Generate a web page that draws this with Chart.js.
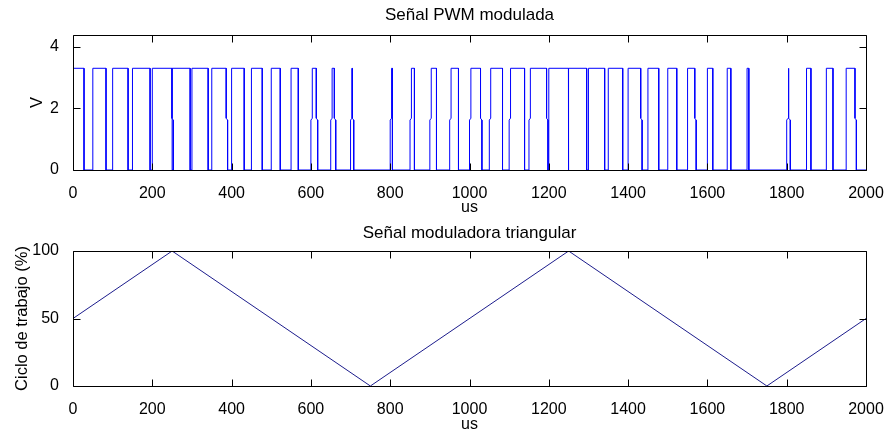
<!DOCTYPE html>
<html>
<head>
<meta charset="utf-8">
<title>PWM</title>
<script src="https://cdn.jsdelivr.net/npm/chart.js@4.4.1/dist/chart.umd.min.js"></script>
<style>
  html, body { margin: 0; padding: 0; background: #fff; }
  #wrap { position: relative; width: 884px; height: 434px; }
  canvas { position: absolute; left: 0; }
  #pwmChart { top: 0; }
  #dutyChart { top: 217px; }
</style>
</head>
<body>
<div id="wrap">
  <canvas id="pwmChart" width="884" height="217"></canvas>
  <canvas id="dutyChart" width="884" height="217"></canvas>
</div>
<script>
// PWM pulses: rising / falling edge times (us)
const pulseRise = [0, 50, 100, 150, 200, 250, 300, 350, 400, 450, 500, 550, 600, 650, 700,
  800, 850, 900, 950, 1000, 1050, 1100, 1150, 1200, 1250, 1300, 1350, 1400, 1450, 1500,
  1550, 1600, 1650, 1700, 1800, 1850, 1900, 1950];
const pulseFall = [27.8, 83.3, 138.9, 194.4, 249.5, 295.5, 340.9, 386.4, 431.8, 477.3, 522.7,
  568.2, 613.6, 659.1, 704.5, 805.6, 861.1, 916.7, 972.2, 1027.8, 1083.3, 1138.9, 1194.4,
  1249.5, 1295.5, 1340.9, 1386.4, 1431.8, 1477.3, 1522.7, 1568.2, 1613.6, 1659.1, 1704.5,
  1805.6, 1861.1, 1916.7, 1972.2];
const pulseHigh = 3.3;
const pulseMid = 1.65;
// edges that pass through the half-level sample
const stepRise = [600, 650, 700, 800, 850, 900, 950, 1000, 1050, 1100, 1150, 1800];
const stepFall = [249.5, 386.4, 613.6, 659.1, 704.5, 1027.8, 1194.4, 1431.8, 1568.2, 1805.6, 1972.2];
const stepWidth = 3.5;

// triangular modulating signal (duty cycle %)
const dutyTime = [0, 250, 750, 1250, 1750, 2000];
const dutyValue = [50, 100, 0, 100, 0, 50];

const timeTicks = [0, 200, 400, 600, 800, 1000, 1200, 1400, 1600, 1800, 2000];
const voltTicks = [0, 2, 4];
const dutyTicks = [0, 50, 100];

// build the step trace from the edge lists
const pwmPoints = [];
pulseRise.forEach((r, i) => {
  const f = pulseFall[i];
  pwmPoints.push({ x: r, y: 0 });
  if (stepRise.includes(r)) {
    pwmPoints.push({ x: r, y: pulseMid - 0.03 });
    pwmPoints.push({ x: r + stepWidth, y: pulseMid + 0.03 });
    pwmPoints.push({ x: r + stepWidth, y: pulseHigh });
  } else {
    pwmPoints.push({ x: r, y: pulseHigh });
  }
  pwmPoints.push({ x: f, y: pulseHigh });
  if (stepFall.includes(f)) {
    pwmPoints.push({ x: f, y: pulseMid + 0.03 });
    pwmPoints.push({ x: f + stepWidth, y: pulseMid - 0.03 });
    pwmPoints.push({ x: f + stepWidth, y: 0 });
  } else {
    pwmPoints.push({ x: f, y: 0 });
  }
});
pwmPoints.push({ x: 2000, y: 0 });

const dutyPoints = dutyTime.map((t, i) => ({ x: t, y: dutyValue[i] }));

const FONT = 'Arial, "Liberation Sans", Helvetica, sans-serif';

// axes box and inward ticks on all four sides, then title and labels
function frameBox(cfg) {
  return {
    id: 'frameBox',
    afterDraw(chart) {
      const ctx = chart.ctx;
      const a = chart.chartArea;
      const xs = chart.scales.x, ys = chart.scales.y;
      const tl = 7;
      const L = Math.round(a.left) + 0.5, R = Math.round(a.right) + 0.5;
      const T = Math.round(a.top) + 0.5, B = Math.round(a.bottom) + 0.5;
      ctx.save();
      ctx.strokeStyle = '#000';
      ctx.lineWidth = 1;
      ctx.beginPath();
      ctx.moveTo(L, T); ctx.lineTo(R, T); ctx.lineTo(R, B); ctx.lineTo(L, B); ctx.closePath();
      timeTicks.forEach(v => {
        const px = Math.round(xs.getPixelForValue(v)) + 0.5;
        ctx.moveTo(px, B); ctx.lineTo(px, B - tl);
        ctx.moveTo(px, T); ctx.lineTo(px, T + tl);
      });
      cfg.yTicks.forEach(v => {
        const py = Math.round(ys.getPixelForValue(v)) + 0.5;
        ctx.moveTo(L, py); ctx.lineTo(L + tl, py);
        ctx.moveTo(R, py); ctx.lineTo(R - tl, py);
      });
      ctx.stroke();

      ctx.fillStyle = '#000';
      ctx.textAlign = 'center';
      ctx.textBaseline = 'middle';
      const cx = (a.left + a.right) / 2;
      ctx.font = '17px ' + FONT;
      ctx.fillText(cfg.title, cx, cfg.titleY);
      ctx.font = '16px ' + FONT;
      ctx.fillText(cfg.xLabel, cx, cfg.xLabelY);
      ctx.translate(cfg.yLabelX, (a.top + a.bottom) / 2);
      ctx.rotate(-Math.PI / 2);
      ctx.font = '16.5px ' + FONT;
      ctx.fillText(cfg.yLabel, 0, 0);
      ctx.restore();
    }
  };
}

function makeOptions(yMin, yMax, yTicks, padTop, xHeight) {
  return {
    responsive: false,
    animation: false,
    events: [],
    layout: { padding: { top: padTop, right: 18, bottom: 0, left: 0 } },
    plugins: {
      legend: { display: false },
      tooltip: { enabled: false }
    },
    scales: {
      x: {
        type: 'linear', min: 0, max: 2000,
        grid: { display: false }, border: { display: false },
        ticks: { color: '#000', padding: 6, maxRotation: 0, font: { size: 16, family: FONT },
          callback: v => String(v) },
        afterBuildTicks: s => { s.ticks = timeTicks.map(v => ({ value: v })); },
        afterFit: s => { s.height = xHeight; s.paddingLeft = 0; s.paddingRight = 0; }
      },
      y: {
        type: 'linear', min: yMin, max: yMax,
        grid: { display: false }, border: { display: false },
        ticks: { color: '#000', padding: 6, font: { size: 16, family: FONT },
          callback: v => String(v) },
        afterBuildTicks: s => { s.ticks = yTicks.map(v => ({ value: v })); },
        afterFit: s => { s.width = 73; s.paddingTop = 0; s.paddingBottom = 0; }
      }
    }
  };
}

new Chart(document.getElementById('pwmChart'), {
  type: 'scatter',
  data: {
    datasets: [{
      data: pwmPoints,
      showLine: true,
      borderColor: '#0000ff',
      borderWidth: 1,
      pointRadius: 0,
      tension: 0
    }]
  },
  options: makeOptions(0, 4.38, voltTicks, 35, 47),
  plugins: [frameBox({
    yTicks: voltTicks, title: 'Señal PWM modulada', titleY: 15,
    xLabel: 'us', xLabelY: 208, yLabel: 'V', yLabelX: 37
  })]
});

new Chart(document.getElementById('dutyChart'), {
  type: 'scatter',
  data: {
    datasets: [{
      data: dutyPoints,
      showLine: true,
      borderColor: '#1c1c8c',
      borderWidth: 1,
      pointRadius: 0,
      tension: 0
    }]
  },
  options: makeOptions(0, 100, dutyTicks, 34, 48),
  plugins: [frameBox({
    yTicks: dutyTicks, title: 'Señal moduladora triangular', titleY: 16,
    xLabel: 'us', xLabelY: 208, yLabel: 'Ciclo de trabajo (%)', yLabelX: 22
  })]
});
</script>
</body>
</html>
